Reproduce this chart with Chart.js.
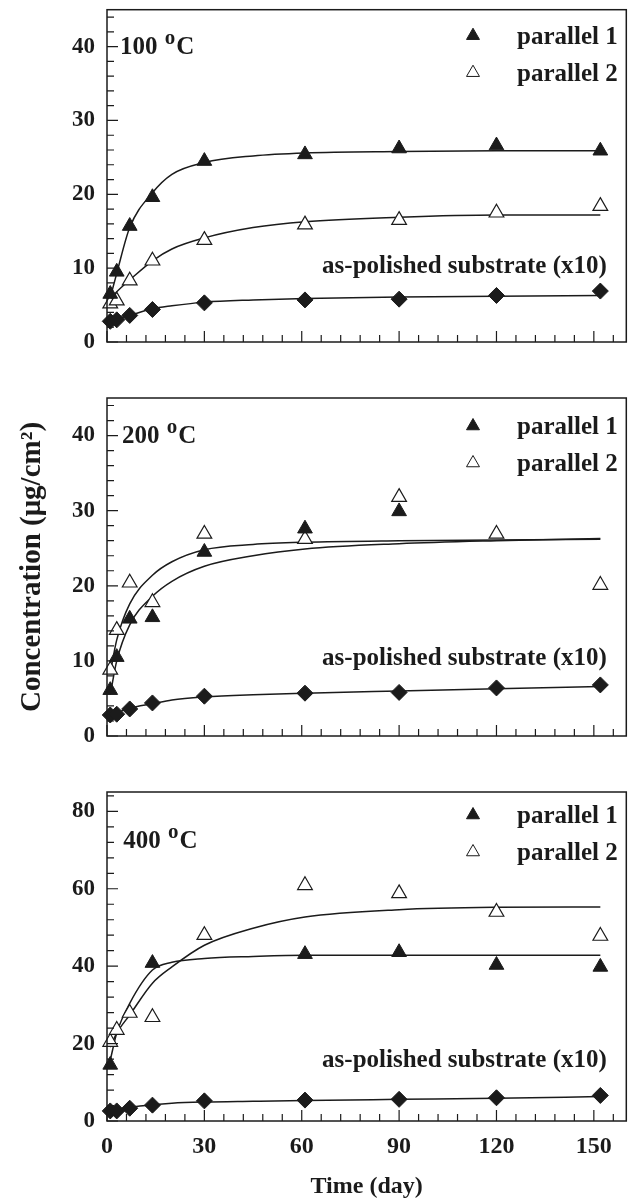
<!DOCTYPE html>
<html lang="en">
<head>
<meta charset="UTF-8">
<title>Concentration vs Time</title>
<script src="https://cdn.jsdelivr.net/npm/chart.js"></script>
<style>
  body { margin: 0; background: #fff; }
  .panel { position: absolute; left: 0; width: 636px; }
</style>
</head>
<body>
<div class="panel" style="top:0px"><canvas id="c100" width="636" height="370"></canvas></div>
<div class="panel" style="top:370px"><canvas id="c200" width="636" height="400"></canvas></div>
<div class="panel" style="top:770px"><canvas id="c400" width="636" height="429"></canvas></div>

<script>
const SERIF = '"Liberation Serif", "Times New Roman", serif';
const INK = '#1b1b1b';

// sampling days of the measurements and of the fitted curves
const days = [1, 3, 7, 14, 30, 61, 90, 120, 152];
const fitDays = [1, 3, 7, 14, 20, 30, 45, 61, 90, 120, 152];

const xLabels = [0, 30, 60, 90, 120, 150];
const yLabels45 = [0, 10, 20, 30, 40];
const yLabels85 = [0, 20, 40, 60, 80];

// 100 oC
const par1_100 = [6.5, 9.5, 15.7, 19.6, 24.5, 25.4, 26.2, 26.6, 25.9];
const par2_100 = [5.2, 5.6, 8.3, 11.0, 13.8, 15.9, 16.5, 17.5, 18.4];
const subs_100 = [2.8, 3.0, 3.6, 4.4, 5.3, 5.7, 5.8, 6.3, 6.9];
const fit1_100 = [6.0, 9.3, 15.5, 20.2, 22.7, 24.3, 25.2, 25.6, 25.8, 25.9, 25.9];
const fit2_100 = [5.8, 6.8, 8.4, 11.0, 12.6, 14.1, 15.5, 16.3, 16.9, 17.2, 17.2];
const fitS_100 = [2.8, 3.1, 3.6, 4.5, 4.9, 5.4, 5.7, 5.9, 6.1, 6.2, 6.3];

// 200 oC
const par1_200 = [6.1, 10.5, 15.6, 15.8, 24.5, 27.6, 29.9, null, null];
const par2_200 = [8.8, 14.1, 20.4, 17.8, 26.9, 26.2, 31.8, 26.9, 20.1];
const subs_200 = [2.8, 2.9, 3.6, 4.4, 5.3, 5.7, 5.8, 6.4, 6.8];
const fit1_200 = [5.5, 10.0, 14.8, 18.6, 20.6, 22.6, 24.0, 24.9, 25.6, 26.0, 26.3];
const fit2_200 = [8.4, 12.8, 17.6, 21.4, 23.2, 24.8, 25.5, 25.8, 26.0, 26.1, 26.2];
const fitS_200 = [2.8, 3.1, 3.7, 4.3, 4.8, 5.2, 5.5, 5.7, 6.0, 6.3, 6.6];

// 400 oC
const par1_400 = [14.5, null, null, 40.8, null, 43.1, 43.6, 40.3, 39.8];
const par2_400 = [20.4, 23.5, 27.9, 26.8, 48.0, 60.9, 58.8, 54.0, 47.8];
const subs_400 = [2.6, 2.6, 3.3, 4.1, 5.2, 5.4, 5.6, 6.0, 6.6];
const fit1_400 = [15.7, 22.7, 30.4, 39.0, 41.0, 42.0, 42.5, 42.8, 42.8, 42.8, 42.8];
const fit2_400 = [19.1, 22.7, 27.4, 35.6, 39.8, 45.4, 49.8, 52.7, 54.6, 55.2, 55.3];
const fitS_400 = [2.7, 2.9, 3.5, 4.2, 4.6, 4.9, 5.1, 5.3, 5.6, 5.9, 6.3];

function points(xs, ys) {
  const out = [];
  xs.forEach((x, i) => { if (ys[i] !== null) out.push({ x: x, y: ys[i] }); });
  return out;
}

function markerSets(p1, p2, s) {
  return [
    { label: 'parallel 1', data: points(days, p1), pointStyle: 'triangle', pointRadius: 8.5,
      backgroundColor: INK, borderColor: INK, borderWidth: 1, clip: false },
    { label: 'parallel 2', data: points(days, p2), pointStyle: 'triangle', pointRadius: 8.5,
      backgroundColor: '#fff', borderColor: INK, borderWidth: 1.2, clip: false },
    { label: 'substrate', data: points(days, s), pointStyle: 'rectRot', pointRadius: 8,
      backgroundColor: INK, borderColor: INK, borderWidth: 1, clip: false }
  ];
}

function fitSet(ys) {
  return { data: points(fitDays, ys), showLine: true, pointRadius: 0, borderColor: INK,
    borderWidth: 1.5, cubicInterpolationMode: 'monotone', fill: false };
}

// frame, inward ticks, legend and the text labels inside each panel
const decoration = {
  id: 'decoration',
  afterDraw(chart, args, o) {
    const { ctx, chartArea: a } = chart;
    const x = chart.scales.x, y = chart.scales.y;
    ctx.save();
    ctx.strokeStyle = INK;
    ctx.fillStyle = INK;
    ctx.lineWidth = 1.5;
    ctx.strokeRect(a.left, a.top, a.right - a.left, a.bottom - a.top);

    ctx.lineWidth = 1.2;
    ctx.beginPath();
    x.ticks.forEach(t => {
      const px = x.getPixelForValue(t.value);
      const len = xLabels.includes(t.value) ? 11 : 7;
      ctx.moveTo(px, a.bottom);
      ctx.lineTo(px, a.bottom - len);
    });
    y.ticks.forEach(t => {
      const py = y.getPixelForValue(t.value);
      const len = o.yLabels.includes(t.value) ? 11 : 7;
      ctx.moveTo(a.left, py);
      ctx.lineTo(a.left + len, py);
    });
    ctx.stroke();

    // temperature, e.g. "100 oC" with raised o
    let tx = x.getPixelForValue(o.tempAt[0]);
    const ty = y.getPixelForValue(o.tempAt[1]);
    ctx.textBaseline = 'alphabetic';
    ctx.textAlign = 'left';
    ctx.font = 'bold 25px ' + SERIF;
    ctx.fillText(o.temp + ' ', tx, ty);
    tx += ctx.measureText(o.temp + ' ').width + 1;
    ctx.font = 'bold 21px ' + SERIF;
    ctx.fillText('o', tx, ty - 10);
    tx += ctx.measureText('o').width + 1;
    ctx.font = 'bold 25px ' + SERIF;
    ctx.fillText('C', tx, ty);

    // substrate label
    ctx.font = 'bold 25px ' + SERIF;
    ctx.textAlign = 'right';
    ctx.fillText('as-polished substrate (x10)', x.getPixelForValue(154), y.getPixelForValue(o.subsAt));

    // legend
    ctx.textAlign = 'left';
    [0, 1].forEach((i, row) => {
      const ds = chart.data.datasets[i];
      const base = a.top + o.legendTop + row * 37;
      ctx.fillStyle = ds.backgroundColor;
      ctx.strokeStyle = ds.borderColor;
      ctx.lineWidth = 1;
      Chart.helpers.drawPoint(ctx, { pointStyle: ds.pointStyle, radius: 7.5, rotation: 0, borderWidth: 1 },
        a.left + 366, base - 8);
      ctx.fillStyle = INK;
      ctx.font = 'bold 25px ' + SERIF;
      ctx.fillText(ds.label, a.left + 410, base);
    });
    ctx.restore();
  }
};

function makePanel(id, sets, cfg) {
  const yStep = cfg.yMax > 50 ? 4 : 2;
  return new Chart(document.getElementById(id), {
    type: 'scatter',
    data: { datasets: sets },
    plugins: [decoration],
    options: {
      responsive: false,
      animation: false,
      events: [],
      layout: { padding: { left: 0, right: 4, top: cfg.top, bottom: 0 } },
      plugins: {
        legend: { display: false },
        tooltip: { enabled: false },
        decoration: cfg.deco
      },
      scales: {
        x: {
          type: 'linear', min: 0, max: 160,
          afterBuildTicks: s => {
            const t = [];
            for (let v = 0; v <= 156; v += 6) t.push({ value: v });
            s.ticks = t;
          },
          afterFit: s => { s.height = cfg.xHeight; s.paddingLeft = 0; s.paddingRight = 0; },
          grid: { display: false },
          border: { display: false },
          ticks: {
            display: cfg.xTicks, autoSkip: false, maxRotation: 0, padding: 3,
            color: INK, font: { family: SERIF, size: 24, weight: 'bold' },
            callback: v => xLabels.includes(v) ? String(v) : ''
          },
          title: {
            display: cfg.xTicks, text: 'Time (day)', color: INK,
            font: { family: SERIF, size: 24, weight: 'bold', lineHeight: 1 },
            padding: { top: 0, bottom: 0 }
          }
        },
        y: {
          type: 'linear', min: 0, max: cfg.yMax,
          afterBuildTicks: s => {
            const t = [];
            for (let v = 0; v < cfg.yMax; v += yStep) t.push({ value: v });
            s.ticks = t;
          },
          afterFit: s => { s.width = 107; s.paddingTop = 0; s.paddingBottom = 0; },
          grid: { display: false },
          border: { display: false },
          ticks: {
            autoSkip: false, padding: 4, color: INK, font: { family: SERIF, size: 23, weight: 'bold' },
            callback: v => cfg.deco.yLabels.includes(v) ? String(v) : ''
          },
          title: {
            display: cfg.yTitle, text: 'Concentration (μg/cm²)', color: INK,
            font: { family: SERIF, size: 29, weight: 'bold', lineHeight: 1 },
            padding: { top: 18, bottom: 0 }
          }
        }
      }
    }
  });
}

makePanel('c100', markerSets(par1_100, par2_100, subs_100).concat([fitSet(fit1_100), fitSet(fit2_100), fitSet(fitS_100)]), {
  top: 8, xHeight: 28, yMax: 45, xTicks: false, yTitle: false,
  deco: { temp: '100', tempAt: [4.0, 39], subsAt: 9.4, legendTop: 34, yLabels: yLabels45 }
});

makePanel('c200', markerSets(par1_200, par2_200, subs_200).concat([fitSet(fit1_200), fitSet(fit2_200), fitSet(fitS_200)]), {
  top: 28, xHeight: 34, yMax: 45, xTicks: false, yTitle: true,
  deco: { temp: '200', tempAt: [4.6, 39], subsAt: 9.5, legendTop: 36, yLabels: yLabels45 }
});

makePanel('c400', markerSets(par1_400, par2_400, subs_400).concat([fitSet(fit1_400), fitSet(fit2_400), fitSet(fitS_400)]), {
  top: 22, xHeight: 78, yMax: 85, xTicks: true, yTitle: false,
  deco: { temp: '400', tempAt: [5.0, 70.5], subsAt: 13.9, legendTop: 31, yLabels: yLabels85 }
});
</script>
</body>
</html>
